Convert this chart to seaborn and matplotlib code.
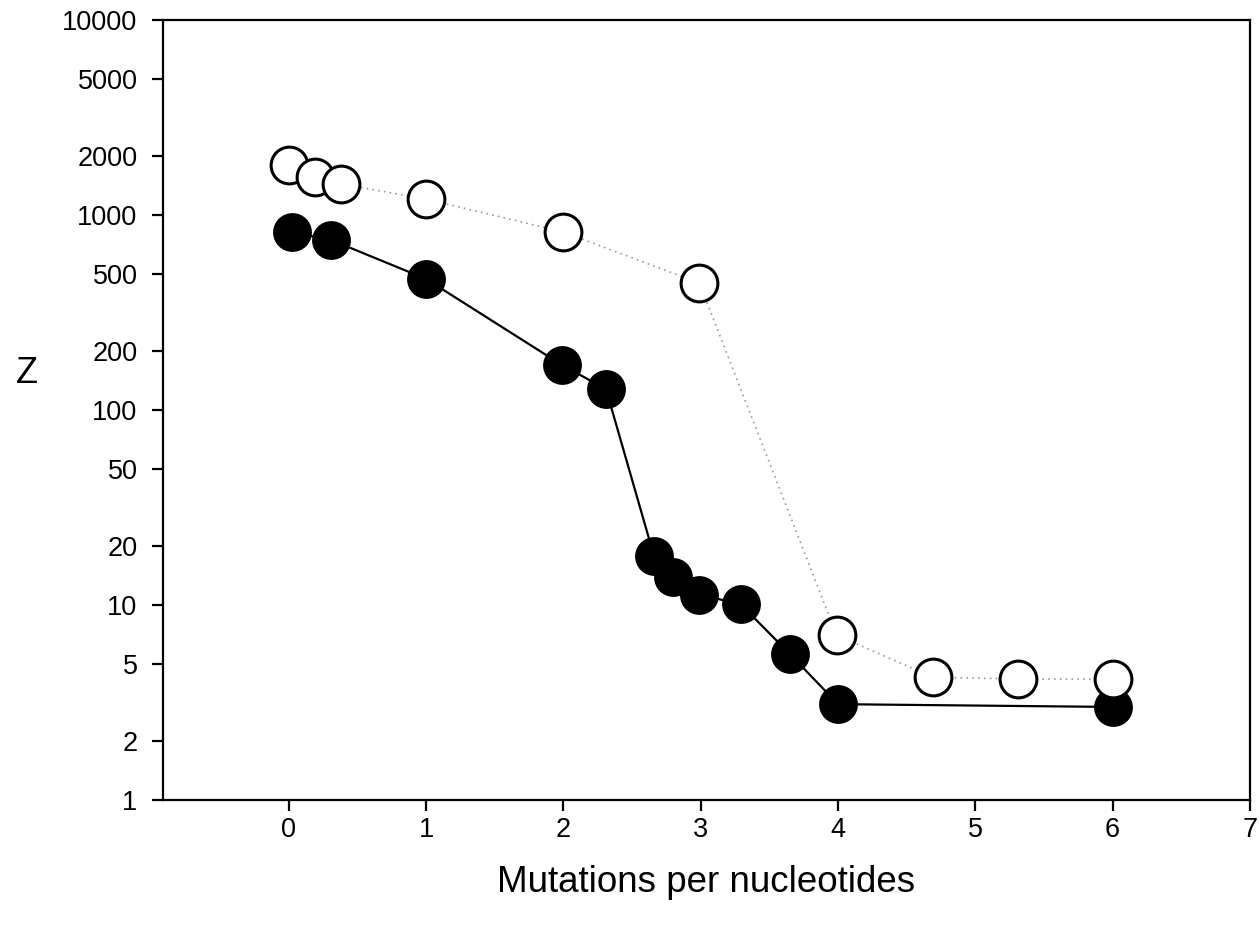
import matplotlib
matplotlib.use("Agg")
import matplotlib.pyplot as plt
import seaborn as sns
import pandas as pd
from matplotlib.ticker import FixedLocator, NullLocator

# Filled series
x_filled = [0.02, 0.31, 1.0, 1.99, 2.31, 2.66, 2.80, 2.99, 3.29, 3.65, 4.0, 6.0]
z_filled = [818, 744, 470, 170, 128, 17.8, 13.9, 11.3, 10.1, 5.6, 3.1, 3.0]

# Open series
x_open = [0.0, 0.19, 0.38, 1.0, 2.0, 2.99, 3.99, 4.69, 5.31, 6.0]
z_open = [1805, 1566, 1442, 1208, 818, 448, 7.0, 4.27, 4.17, 4.17]

y_ticks = [1, 2, 5, 10, 20, 50, 100, 200, 500, 1000, 2000, 5000, 10000]
x_ticks = [0, 1, 2, 3, 4, 5, 6, 7]

df_f = pd.DataFrame({"x": x_filled, "z": z_filled})
df_o = pd.DataFrame({"x": x_open, "z": z_open})

sns.set_theme(style="white")
plt.rcParams["font.family"] = ["Liberation Sans", "DejaVu Sans"]
plt.rcParams["text.color"] = "black"
plt.rcParams["axes.labelcolor"] = "black"
plt.rcParams["xtick.color"] = "black"
plt.rcParams["ytick.color"] = "black"

fig = plt.figure(figsize=(12.6, 9.34), dpi=100)
ax = fig.add_axes([0.129, 0.1435, 0.863, 0.835])

sns.lineplot(data=df_f, x="x", y="z", ax=ax, color="black", lw=1.6,
             sort=False, estimator=None, zorder=2)
sns.lineplot(data=df_o, x="x", y="z", ax=ax, color="#9a9a9a", lw=1.2,
             linestyle=(0, (1, 2.5)), sort=False, estimator=None, zorder=2)
sns.scatterplot(data=df_f, x="x", y="z", ax=ax, s=700, color="black",
                edgecolor="black", linewidth=1.5, zorder=3)
sns.scatterplot(data=df_o, x="x", y="z", ax=ax, s=700, color="white",
                edgecolor="black", linewidth=2.2, zorder=4)

ax.set_yscale("log")
ax.set_ylim(1, 10000)
ax.set_xlim(-0.92, 7.0)
ax.yaxis.set_major_locator(FixedLocator(y_ticks))
ax.yaxis.set_minor_locator(NullLocator())
ax.set_yticklabels([str(t) for t in y_ticks])
ax.set_xticks(x_ticks)
ax.set_xticklabels([str(t) for t in x_ticks])

for s in ax.spines.values():
    s.set_visible(True)
    s.set_color("black")
    s.set_linewidth(1.6)

ax.tick_params(axis="both", which="major", direction="out", length=8,
               width=1.6, color="black", labelcolor="black", labelsize=19.5,
               left=True, bottom=True, top=False, right=False)
ax.tick_params(axis="y", pad=10)
ax.tick_params(axis="x", pad=4)

ax.set_xlabel("Mutations per nucleotides", fontsize=26.5, labelpad=16)
ax.set_ylabel("Z", fontsize=26, rotation=0, labelpad=0)
ax.yaxis.set_label_coords(-0.125, 0.525)

fig.savefig("out.png", dpi=100)
